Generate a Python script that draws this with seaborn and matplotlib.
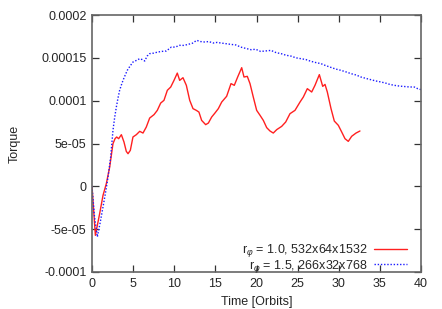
import numpy as np
import pandas as pd
import matplotlib
matplotlib.use("Agg")
import matplotlib.pyplot as plt
import seaborn as sns
from matplotlib.ticker import FuncFormatter, MultipleLocator

# ---- data (torque in units of 1e-4) ----
red_t = [0, 0.41, 0.93, 1.34, 1.74, 2.15, 2.55, 2.8, 3.0, 3.24, 3.57, 3.89, 4.17, 4.38, 4.66,
         4.98, 5.39, 5.80, 6.20, 6.60, 7.01, 7.54, 7.94, 8.35, 8.75, 9.16, 9.57, 9.97, 10.37,
         10.66, 11.06, 11.47, 11.88, 12.28, 12.68, 13.0, 13.33, 13.82, 14.15, 14.55, 14.95,
         15.36, 15.77, 16.37, 16.90, 17.30, 17.71, 18.20, 18.48, 18.88, 19.21, 19.61, 20.02,
         20.43, 20.83, 21.24, 21.64, 22.04, 22.46, 23.06, 23.55, 24.07, 24.68, 25.29, 25.69,
         26.18, 26.71, 27.11, 27.64, 28.05, 28.33, 28.61, 29.06, 29.46, 29.95, 30.36, 30.76,
         31.16, 31.57, 32.10, 32.58]
red_v = [0, -0.572, -0.319, -0.105, 0.031, 0.225, 0.498, 0.556, 0.576, 0.556, 0.603, 0.517,
         0.408, 0.381, 0.420, 0.576, 0.603, 0.642, 0.622, 0.692, 0.797, 0.837, 0.887, 0.972,
         1.004, 1.121, 1.159, 1.237, 1.322, 1.237, 1.268, 1.179, 1.004, 0.907, 0.887, 0.867,
         0.770, 0.720, 0.739, 0.809, 0.856, 0.907, 0.984, 1.051, 1.199, 1.179, 1.276, 1.385,
         1.276, 1.284, 1.199, 1.042, 0.887, 0.829, 0.770, 0.685, 0.646, 0.622, 0.662, 0.700,
         0.751, 0.848, 0.887, 0.984, 1.042, 1.140, 1.101, 1.179, 1.304, 1.167, 1.190, 1.101,
         0.907, 0.762, 0.712, 0.634, 0.556, 0.525, 0.584, 0.622, 0.646]

blue_t = [0, 0.3, 0.65, 1.0, 1.34, 1.65, 1.95, 2.27, 2.55, 2.75, 2.96, 3.16, 3.36, 3.56, 3.77,
          4.0, 4.29, 4.6, 4.98, 5.4, 5.8, 6.1, 6.41, 6.7, 7.01, 7.5, 8.02, 8.5, 9.04, 9.65,
          10.1, 10.66, 11.2, 11.67, 12.2, 12.73, 13.2, 13.7, 14.2, 14.75, 15.2, 15.68, 16.3,
          16.9, 17.5, 18.1, 18.7, 19.33, 19.9, 20.5, 21.1, 21.76, 22.4, 22.98, 23.6, 24.2,
          24.8, 25.41, 26.0, 26.6, 27.2, 27.84, 28.4, 29.0, 29.6, 30.27, 30.9, 31.5, 32.1,
          32.7, 33.3, 33.9, 34.5, 35.14, 35.7, 36.2, 36.76, 37.4, 38.0, 38.6, 39.19, 39.6, 40.0]
blue_v = [0, -0.35, -0.59, -0.42, -0.24, -0.07, 0.109, 0.342, 0.654, 0.80, 0.926, 1.03, 1.121,
          1.18, 1.237, 1.29, 1.354, 1.40, 1.451, 1.47, 1.49, 1.48, 1.463, 1.52, 1.549, 1.555,
          1.568, 1.575, 1.58, 1.626, 1.625, 1.646, 1.645, 1.657, 1.67, 1.704, 1.69, 1.685,
          1.69, 1.673, 1.68, 1.673, 1.665, 1.657, 1.65, 1.625, 1.61, 1.595, 1.60, 1.575, 1.58,
          1.587, 1.56, 1.549, 1.53, 1.52, 1.50, 1.49, 1.48, 1.46, 1.445, 1.432, 1.41, 1.39,
          1.37, 1.354, 1.335, 1.315, 1.30, 1.276, 1.26, 1.245, 1.23, 1.218, 1.205, 1.19, 1.179,
          1.17, 1.165, 1.16, 1.159, 1.14, 1.129]

labels = [r"r$_\varphi$ = 1.0, 532x64x1532", r"r$_\varphi$ = 1.5, 266x32x768"]
x_label = "Time [Orbits]"
y_label = "Torque"
scale = 1e-4

sns.set_style("white")
plt.rcParams["font.family"] = ["Liberation Sans", "DejaVu Sans"]
plt.rcParams["mathtext.fontset"] = "custom"
plt.rcParams["mathtext.rm"] = "Liberation Sans"
plt.rcParams["mathtext.it"] = "Liberation Sans:italic"

df_r = pd.DataFrame({"t": red_t, "v": np.array(red_v) * scale})
df_b = pd.DataFrame({"t": blue_t, "v": np.array(blue_v) * scale})

fig = plt.figure(figsize=(4.42, 3.09), dpi=100)
ax = fig.add_axes([92 / 442, 37 / 309, 329 / 442, 257 / 309])

sns.lineplot(data=df_r, x="t", y="v", ax=ax, color="#ff2020", lw=1.0, sort=False,
             estimator=None, label=labels[0])
sns.lineplot(data=df_b, x="t", y="v", ax=ax, color="#1a1aff", lw=1.0, sort=False,
             estimator=None, label=labels[1], dashes=False)
ax.lines[1].set_dashes([1, 1.3])

ax.set_xlim(0, 40)
ax.set_ylim(-1e-4, 2e-4)
ax.xaxis.set_major_locator(MultipleLocator(5))
ax.yaxis.set_major_locator(MultipleLocator(5e-5))
ax.yaxis.set_major_formatter(FuncFormatter(lambda v, p: "0" if abs(v) < 1e-12 else "%g" % v))
ax.tick_params(direction="in", length=5, width=0.9, color="#333333", labelsize=9,
               top=True, right=True, bottom=True, left=True, pad=4)
for s in ax.spines.values():
    s.set_color("#666666")
    s.set_linewidth(1.2)

ax.set_xlabel(x_label, fontsize=9, labelpad=5)
ax.set_ylabel(y_label, fontsize=9, labelpad=15)

leg = ax.legend(loc="lower right", bbox_to_anchor=(0.956, -0.01), frameon=False,
                fontsize=9, markerfirst=False, handlelength=2.6, handletextpad=0.55,
                labelspacing=-0.12, borderaxespad=0, borderpad=0)
for t in leg.get_texts():
    t.set_ha("right")

fig.savefig("out.png", dpi=100)
